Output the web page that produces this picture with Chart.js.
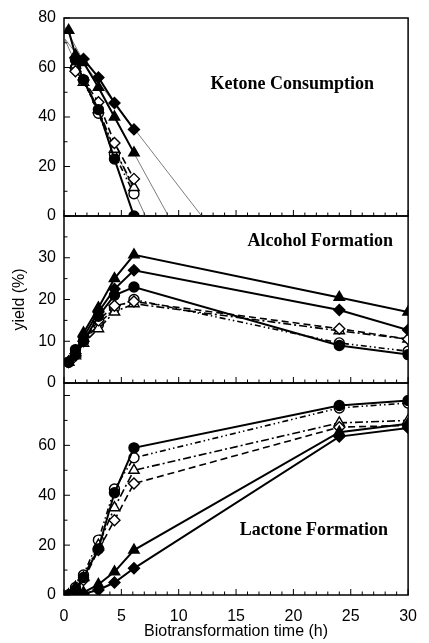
<!DOCTYPE html>
<html><head><meta charset="utf-8">
<script src="https://cdn.jsdelivr.net/npm/chart.js@4.4.0/dist/chart.umd.min.js"></script>
<style>html,body{margin:0;padding:0;background:#fff;}#wrap{width:429px;height:643px;position:relative;}</style>
</head><body><div id="wrap"><canvas id="c" width="429" height="643"></canvas></div>
<script>
// ---- data ----
const times = [0.4, 1, 1.7, 3, 4.4, 6.1, 24, 30];
const xTickLabels = [0, 5, 10, 15, 20, 25, 30];
const panelTitles = ["Ketone Consumption", "Alcohol Formation", "Lactone Formation"];

// Ketone consumption (%)
const ketFilledCircle   = [null, 63, 55, 43, 23, 0, null, null];
const ketFilledDiamond  = [null, 64, 63.4, 56, 45.7, 35, null, null];
const ketFilledTriangle = [75, 65, 62, 52, 40, 25.5, null, null];
const ketOpenCircle     = [null, 60, 55, 41.5, 25, 9, null, null];
const ketOpenTriangle   = [null, 61, 54, 43, 27, 11.5, null, null];
const ketOpenDiamond    = [null, 58.5, 55, 46, 29.5, 15, null, null];
// thin regression lines: value at t=0 and time at which they reach 0
const fitStart = [77, 72, 72];
const fitZeroTime = [9.1, 12, 7.1];

// Alcohol formation (%)
const alcFilledCircle   = [5, 8, 10, 16, 21, 23, 9, 6.8];
const alcFilledDiamond  = [5, 6.5, 11, 17, 22.5, 27, 17.5, 12.7];
const alcFilledTriangle = [5, 7, 12, 18, 25, 30.7, 20.5, 17];
const alcOpenCircle     = [5, 7, 10, 14, 18, 20, 9.6, 7.6];
const alcOpenTriangle   = [5, 6.5, 9.5, 13, 17, 19, 12.5, 10.5];
const alcOpenDiamond    = [5, 7, 10, 15, 18.5, 19.5, 13, 10.5];

// Lactone formation (%)
const lacFilledCircle   = [0, 2, 7, 18.5, 41, 59, 76, 78];
const lacFilledDiamond  = [0, 1, 0.5, 2, 5, 10.7, 63.5, 67];
const lacFilledTriangle = [0, 3, 1, 4.2, 9.3, 18, 65.3, 68.7];
const lacOpenCircle     = [0, 3, 8, 22, 42.5, 55, 75, 77];
const lacOpenTriangle   = [0, 3, 7, 20, 35, 50, 69, 70];
const lacOpenDiamond    = [0, 2, 6, 18, 30, 44.7, 67.3, 68];

// ---- styles ----
const STY = {
  fc: {pointStyle:'circle', fill:'#000', dash:[], r:5},
  fd: {pointStyle:'rectRot', fill:'#000', dash:[], r:5.5},
  ft: {pointStyle:'triangle', fill:'#000', dash:[], r:6},
  oc: {pointStyle:'circle', fill:'#fff', dash:[6,3,1.5,3,1.5,3], r:5},
  ot: {pointStyle:'triangle', fill:'#fff', dash:[8,3,2,3], r:6},
  od: {pointStyle:'rectRot', fill:'#fff', dash:[7,4], r:5.5}
};
function pts(vals){ return times.map((t,i)=>({x:t,y:vals[i]})).filter(p=>p.y!==null); }
function ds(vals, key, axis){
  const s = STY[key];
  return {data:pts(vals), yAxisID:axis, borderColor:'#000', borderWidth: s.fill==='#000'?2:1.6,
    borderDash:s.dash, pointStyle:s.pointStyle, pointRadius:s.r, pointBackgroundColor:s.fill,
    pointBorderColor:'#000', pointBorderWidth:1.4, fill:false, tension:0, order: s.fill==='#000'?1:2};
}
const datasets = [];
// thin fit lines (ketone)
fitStart.forEach((v,i)=>{
  datasets.push({data:[{x:0,y:v},{x:fitZeroTime[i],y:0}], yAxisID:'yK', borderColor:'#444',
    borderWidth:0.7, pointRadius:0, fill:false, order:5});
});
[[ketOpenDiamond,'od'],[ketOpenTriangle,'ot'],[ketOpenCircle,'oc'],[ketFilledCircle,'fc'],[ketFilledTriangle,'ft'],[ketFilledDiamond,'fd']]
  .forEach(([v,k])=>datasets.push(ds(v,k,'yK')));
[[alcOpenDiamond,'od'],[alcOpenTriangle,'ot'],[alcOpenCircle,'oc'],[alcFilledCircle,'fc'],[alcFilledTriangle,'ft'],[alcFilledDiamond,'fd']]
  .forEach(([v,k])=>datasets.push(ds(v,k,'yA')));
[[lacOpenDiamond,'od'],[lacOpenTriangle,'ot'],[lacOpenCircle,'oc'],[lacFilledCircle,'fc'],[lacFilledTriangle,'ft'],[lacFilledDiamond,'fd']]
  .forEach(([v,k])=>datasets.push(ds(v,k,'yL')));

const SANS = "'Liberation Sans', Arial, sans-serif";
const tickFont = {family:SANS, size:16};

// title placement: right edge offset from plot right, centre offset from panel top
const panels = [
  {id:'yK', minor:10, major:20, title:panelTitles[0], tx:-34, ty:66},
  {id:'yA', minor:5,  major:10, title:panelTitles[1], tx:-15, ty:25},
  {id:'yL', minor:10, major:20, title:panelTitles[2], tx:-20, ty:147}
];

const framePlugin = {
  id:'frame',
  beforeDatasetsDraw(chart){
    const ctx = chart.ctx, ca = chart.chartArea, xs = chart.scales.x;
    ctx.save();
    ctx.strokeStyle = '#000';
    panels.forEach(p=>{
      const s = chart.scales[p.id];
      ctx.lineWidth = 1.5;
      ctx.strokeRect(ca.left, s.top, ca.right-ca.left, s.bottom-s.top);
      ctx.lineWidth = 1;
      for(let v=0; v<=s.max+0.001; v+=p.minor){
        const y = s.getPixelForValue(v);
        const len = (v % p.major === 0) ? 6 : 3.5;
        ctx.beginPath(); ctx.moveTo(ca.left, y); ctx.lineTo(ca.left+len, y); ctx.stroke();
      }
      for(let t=0; t<=30; t+=1){
        const x = xs.getPixelForValue(t);
        const len = (t % 5 === 0) ? 6 : 3.5;
        ctx.beginPath(); ctx.moveTo(x, s.bottom); ctx.lineTo(x, s.bottom-len); ctx.stroke();
      }
    });
    ctx.restore();
  },
  afterDraw(chart){
    const ctx = chart.ctx, ca = chart.chartArea;
    ctx.save();
    ctx.fillStyle = '#000';
    ctx.font = "bold 18px 'Liberation Serif', 'Times New Roman', serif";
    ctx.textAlign = 'right'; ctx.textBaseline = 'middle';
    panels.forEach(p=>{
      const s = chart.scales[p.id];
      ctx.fillText(p.title, ca.right + p.tx, s.top + p.ty);
    });
    ctx.restore();
  }
};

function yScale(weight, max, step, labelMax, withTitle){
  const o = {
    type:'linear', position:'left', stack:'panels', stackWeight:weight, min:0, max:max,
    grid:{display:false, drawTicks:false}, border:{display:false},
    ticks:{stepSize:step, color:'#000', font:tickFont, padding:8,
      callback:(v)=> v<=labelMax ? String(v) : ''},
    afterFit:(s)=>{ s.width = 64; }
  };
  if(withTitle){
    o.title = {display:true, text:'yield (%)', color:'#000', font:{family:SANS, size:16}, padding:{top:10,bottom:0}};
  }
  return o;
}

new Chart(document.getElementById('c'), {
  type:'line',
  data:{datasets},
  options:{
    responsive:false, animation:false, devicePixelRatio:1,
    layout:{padding:{left:0, right:12, top:18, bottom:0}},
    plugins:{legend:{display:false}, tooltip:{enabled:false}},
    scales:{
      x:{type:'linear', min:0, max:30,
        grid:{display:false, drawTicks:false}, border:{display:false},
        afterBuildTicks:(s)=>{ s.ticks = xTickLabels.map(v=>({value:v})); },
        ticks:{color:'#000', font:tickFont, padding:12, maxRotation:0},
        title:{display:true, text:'Biotransformation time (h)', color:'#000', font:{family:SANS, size:16}, padding:{top:0,bottom:2}},
        afterFit:(s)=>{ s.height = 48; }
      },
      yL: yScale(212, 85, 20, 60, false),
      yA: yScale(167, 40, 10, 30, true),
      yK: yScale(198, 80, 20, 80, false)
    }
  },
  plugins:[framePlugin]
});
</script></body></html>
